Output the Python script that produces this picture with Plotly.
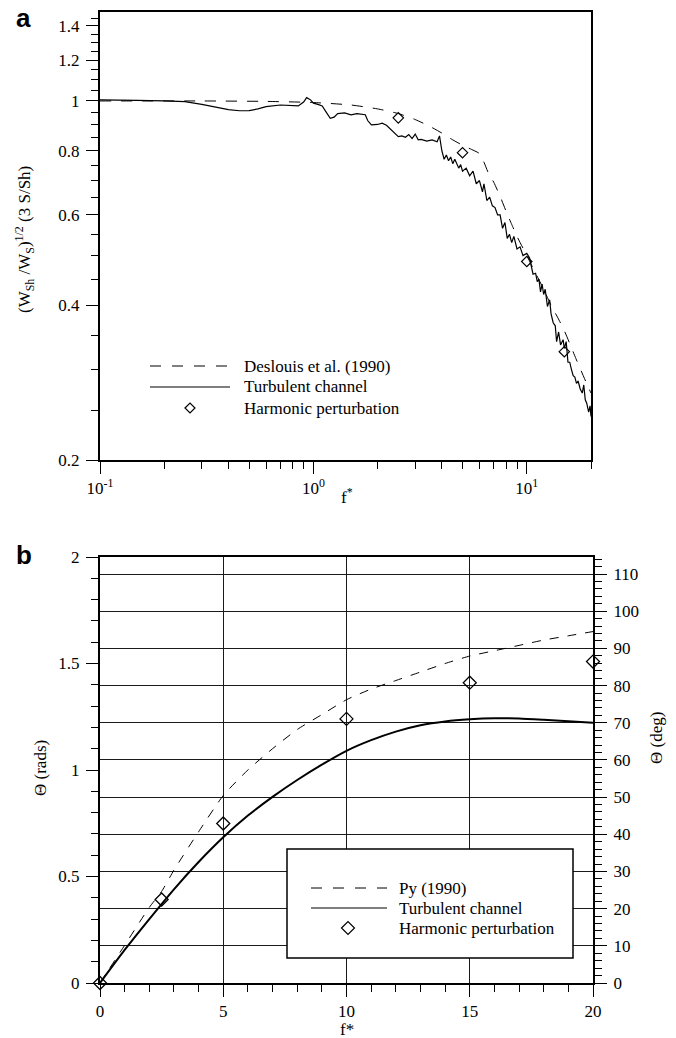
import math
import plotly.graph_objects as go

# ---------------- data: panel a ----------------
des_f = [0.1, 0.3, 0.6, 1.0, 1.5, 2.0, 2.5, 3.0, 3.5, 4.0, 4.5, 5.0, 5.5, 6.0, 6.3, 6.6, 7.0,
         7.5, 8.0, 8.5, 9.0, 10.0, 11.0, 12.0, 13.0, 14.0, 15.0, 16.0, 17.0, 18.0, 19.0, 20.0]
des_v = [1.0, 1.0, 0.998, 0.993, 0.982, 0.965, 0.945, 0.92, 0.893, 0.866, 0.84, 0.82, 0.805, 0.79,
         0.76, 0.725, 0.695, 0.652, 0.61, 0.575, 0.545, 0.5, 0.462, 0.43, 0.4, 0.378, 0.357, 0.335,
         0.315, 0.298, 0.283, 0.27]

tc_f = [0.1, 0.12, 0.15, 0.2, 0.25, 0.3, 0.35, 0.4, 0.45, 0.5, 0.55, 0.6, 0.7, 0.8, 0.85, 0.9,
        0.93, 0.97, 1.0, 1.05, 1.1, 1.15, 1.2, 1.25, 1.3, 1.4, 1.5, 1.6, 1.7, 1.75, 1.8, 1.87, 2.0,
        2.1, 2.2, 2.3, 2.4, 2.5, 2.6, 2.7, 2.8, 2.9, 3.0, 3.1, 3.2, 3.4, 3.6, 3.8, 3.9, 4.0, 4.1,
        4.2, 4.3, 4.4, 4.5, 4.6, 4.8, 4.9, 5.0, 5.2, 5.4, 5.6, 5.8, 6.0, 6.2, 6.3, 6.5, 6.7, 6.9,
        7.1, 7.3, 7.5, 7.7, 7.9, 8.1, 8.3, 8.5, 8.7, 9.0, 9.3, 9.6, 10.0, 10.3, 10.5, 10.7, 11.0,
        11.2, 11.4, 11.6, 11.8, 12.0, 12.2, 12.5, 12.8, 13.0, 13.3, 13.6, 13.8, 14.1, 14.4, 14.8,
        15.0, 15.3, 15.6, 15.9, 16.2, 16.5, 16.8, 17.1, 17.4, 17.8, 18.2, 18.5, 18.8, 19.1, 19.5,
        19.8, 20.0]
tc_v = [1.005, 1.005, 1.003, 1.0, 0.997, 0.985, 0.972, 0.962, 0.957, 0.958, 0.965, 0.975, 0.982,
        0.981, 0.978, 0.995, 1.015, 1.005, 0.99, 0.985, 0.978, 0.95, 0.925, 0.93, 0.945, 0.948,
        0.94, 0.945, 0.942, 0.94, 0.915, 0.898, 0.9, 0.905, 0.897, 0.88, 0.865, 0.852, 0.855,
        0.85, 0.86, 0.845, 0.862, 0.84, 0.842, 0.835, 0.84, 0.833, 0.855, 0.8, 0.77, 0.785, 0.765,
        0.778, 0.755, 0.77, 0.74, 0.752, 0.73, 0.74, 0.715, 0.73, 0.69, 0.7, 0.665, 0.69, 0.64,
        0.65, 0.625, 0.62, 0.6, 0.6, 0.565, 0.58, 0.54, 0.55, 0.53, 0.545, 0.515, 0.52, 0.5,
        0.505, 0.495, 0.48, 0.46, 0.462, 0.445, 0.45, 0.425, 0.44, 0.42, 0.43, 0.398, 0.41, 0.385,
        0.37, 0.365, 0.34, 0.355, 0.335, 0.343, 0.33, 0.34, 0.31, 0.31, 0.3, 0.292, 0.29, 0.282,
        0.285, 0.275, 0.27, 0.28, 0.262, 0.258, 0.248, 0.255, 0.243]

hp_f = [2.5, 5.0, 10.0, 15.0]
hp_v = [0.927, 0.793, 0.487, 0.325]

# ---------------- data: panel b ----------------
py_f = [0, 1, 2, 2.5, 3, 4, 5, 6, 7, 8, 9, 10, 11, 12, 13, 14, 15, 16, 17, 18, 19, 20]
py_t = [0.0, 0.177, 0.355, 0.43, 0.53, 0.71, 0.88, 1.0, 1.1, 1.19, 1.26, 1.33, 1.38, 1.42, 1.46,
        1.5, 1.535, 1.56, 1.585, 1.61, 1.63, 1.65]

tb_f = [0, 1, 2, 3, 4, 5, 6, 7, 8, 9, 10, 11, 12, 13, 14, 15, 16, 17, 18, 19, 20]
tb_t = [0.0, 0.155, 0.30, 0.44, 0.568, 0.684, 0.786, 0.874, 0.953, 1.025, 1.09, 1.14, 1.18, 1.21,
        1.228, 1.238, 1.243, 1.242, 1.236, 1.229, 1.222]

hb_f = [0, 2.5, 5, 10, 15, 20]
hb_t = [0.0, 0.392, 0.749, 1.24, 1.41, 1.509]

a_yticks = [0.2, 0.4, 0.6, 0.8, 1, 1.2, 1.4]
a_yticktext = ["0.2", "0.4", "0.6", "0.8", "1", "1.2", "1.4"]
a_xticks = [0.1, 1, 10]
a_xticktext = ["10<sup>-1</sup>", "10<sup>0</sup>", "10<sup>1</sup>"]

W, H = 676, 1038
FONT = "Liberation Serif, Times New Roman, serif"
RAD2DEG = 180 / math.pi


def px(x):
    return x / W


def py(y):
    return 1 - y / H


fig = go.Figure()

# panel a traces
fig.add_trace(go.Scatter(x=des_f, y=des_v, mode="lines", xaxis="x", yaxis="y",
                         line=dict(color="black", width=1, dash="11px,10px", shape="spline",
                                   smoothing=0.6)))
fig.add_trace(go.Scatter(x=tc_f, y=tc_v, mode="lines", xaxis="x", yaxis="y",
                         line=dict(color="black", width=1.2)))
fig.add_trace(go.Scatter(x=hp_f, y=hp_v, mode="markers", xaxis="x", yaxis="y",
                         marker=dict(symbol="diamond-open", size=8, color="black",
                                     line=dict(width=1.2, color="black"))))

# panel b traces
fig.add_trace(go.Scatter(x=py_f, y=py_t, mode="lines", xaxis="x2", yaxis="y2",
                         line=dict(color="black", width=1, dash="9px,9px", shape="spline",
                                   smoothing=0.6)))
fig.add_trace(go.Scatter(x=tb_f, y=tb_t, mode="lines", xaxis="x2", yaxis="y2",
                         line=dict(color="black", width=2, shape="spline", smoothing=0.6)))
fig.add_trace(go.Scatter(x=hb_f, y=hb_t, mode="markers", xaxis="x2", yaxis="y2",
                         marker=dict(symbol="diamond-open", size=10, color="black",
                                     line=dict(width=1.3, color="black")), cliponaxis=False))
# same harmonic points expressed in degrees on the right axis (invisible, keeps axis alive)
fig.add_trace(go.Scatter(x=hb_f, y=[t * RAD2DEG for t in hb_t], mode="markers", xaxis="x2",
                         yaxis="y3", marker=dict(size=1, opacity=0), hoverinfo="skip"))

tickfont = dict(family=FONT, size=17, color="black")

a_minor_x = [k * 10 ** e for e in (-1, 0) for k in range(2, 10)] + [20]
a_minor_y = [0.25, 0.3, 0.35, 0.45, 0.5, 0.55, 0.65, 0.7, 0.75, 0.85, 0.9, 0.95,
             1.05, 1.1, 1.15, 1.25, 1.3, 1.35, 1.45]

common = dict(automargin=False, showline=True, linecolor="black", linewidth=2, zeroline=False,
              ticks="outside", ticklen=12, tickwidth=1.2, tickcolor="black", tickfont=tickfont)

fig.update_layout(
    template="none",
    width=W, height=H, margin=dict(l=0, r=0, t=0, b=0, pad=0, autoexpand=False),
    paper_bgcolor="white", plot_bgcolor="white", showlegend=False,
    font=dict(family=FONT, size=17, color="black"),
    xaxis=dict(type="log", domain=[px(100), px(591)], range=[-1, math.log10(20)], anchor="y",
               mirror=True, showgrid=False,
               tickmode="array", tickvals=a_xticks, ticktext=a_xticktext,
               minor=dict(tickmode="array", tickvals=a_minor_x, ticks="outside", ticklen=7,
                          tickwidth=1, tickcolor="black", showgrid=False), **common),
    yaxis=dict(type="log", domain=[py(460), py(12)], range=[math.log10(0.2), math.log10(1.49)],
               anchor="x", mirror=True, showgrid=False, ticklabelstandoff=3,
               tickmode="array", tickvals=a_yticks, ticktext=a_yticktext,
               minor=dict(tickmode="array", tickvals=a_minor_y, ticks="outside", ticklen=7,
                          tickwidth=1, tickcolor="black", showgrid=False), **common),
    xaxis2=dict(domain=[px(100), px(593)], range=[0, 20], anchor="y2", mirror=True,
                showgrid=True, gridcolor="#1a1a1a", gridwidth=1,
                tickmode="linear", tick0=0, dtick=5,
                minor=dict(dtick=1, ticks="outside", ticklen=7, tickwidth=1, tickcolor="black",
                           showgrid=False), **common),
    yaxis2=dict(domain=[py(983), py(557)], range=[0, 2], anchor="x2", showgrid=False,
                tickmode="linear", tick0=0, dtick=0.5, ticklabelstandoff=3,
                minor=dict(dtick=0.1, ticks="outside", ticklen=7, tickwidth=1,
                           tickcolor="black", showgrid=False), **common),
    yaxis3=dict(overlaying="y2", side="right", anchor="x2", range=[0, 2 * RAD2DEG],
                showgrid=True, gridcolor="#1a1a1a", gridwidth=1, ticklabelstandoff=3,
                tickmode="linear", tick0=0, dtick=10,
                minor=dict(dtick=2, ticks="outside", ticklen=7, tickwidth=1,
                           tickcolor="black", showgrid=False), **common),
)

ann = []
lbl = dict(family=FONT, size=17, color="black")


def text_at(x, y, text, **kw):
    d = dict(x=px(x), y=py(y), text=text, showarrow=False, xref="paper", yref="paper",
             xanchor="center", yanchor="middle", font=lbl)
    d.update(kw)
    ann.append(d)


bold = dict(family="Liberation Sans, Arial, sans-serif", size=26, color="black")
text_at(23, 18, "<b>a</b>", font=bold)
text_at(24, 555, "<b>b</b>", font=bold)
text_at(24, 240, "(W<sub>Sh</sub> /W<sub>S</sub>)<sup>1/2</sup> (3 S/Sh)", textangle=-90)
text_at(347, 496, "f<sup>*</sup>")
text_at(347, 1029, "f*")
text_at(40, 768, "Θ (rads)", textangle=-90)
text_at(656, 738, "Θ (deg)", textangle=-90)

shapes = []


def diamond(cx, cy, r):
    return dict(type="path", xref="paper", yref="paper",
                path=f"M {px(cx - r)} {py(cy)} L {px(cx)} {py(cy - r)} L {px(cx + r)} {py(cy)} "
                     f"L {px(cx)} {py(cy + r)} Z",
                line=dict(color="black", width=1.2), fillcolor="white", layer="above")


# legend a (no box)
shapes.append(dict(type="line", xref="paper", yref="paper", x0=px(150), x1=px(230), y0=py(366), y1=py(366),
                   line=dict(color="black", width=1, dash="11px,11px")))
shapes.append(dict(type="line", xref="paper", yref="paper", x0=px(150), x1=px(230), y0=py(387), y1=py(387),
                   line=dict(color="black", width=1.2)))
shapes.append(diamond(190, 408, 5))
legA = [("Deslouis et al. (1990)", 366), ("Turbulent channel", 387), ("Harmonic perturbation", 408)]
for t, yy in legA:
    text_at(242, yy, t, xanchor="left")

# legend b (boxed)
shapes.append(dict(type="rect", xref="paper", yref="paper", x0=px(287), x1=px(573), y0=py(958), y1=py(849),
                   line=dict(color="black", width=1.5), fillcolor="white", layer="above"))
shapes.append(dict(type="line", xref="paper", yref="paper", x0=px(311), x1=px(387), y0=py(888), y1=py(888),
                   line=dict(color="black", width=1, dash="11px,11px"), layer="above"))
shapes.append(dict(type="line", xref="paper", yref="paper", x0=px(311), x1=px(387), y0=py(908), y1=py(908),
                   line=dict(color="black", width=1.2), layer="above"))
shapes.append(diamond(348, 928, 6.5))
legB = [("Py (1990)", 888), ("Turbulent channel", 908), ("Harmonic perturbation", 928)]
for t, yy in legB:
    text_at(397, yy, t, xanchor="left")

fig.update_layout(annotations=ann, shapes=shapes)
fig.write_html("out.html", config={"displayModeBar": False},
               post_script="document.body.style.margin='0';")
